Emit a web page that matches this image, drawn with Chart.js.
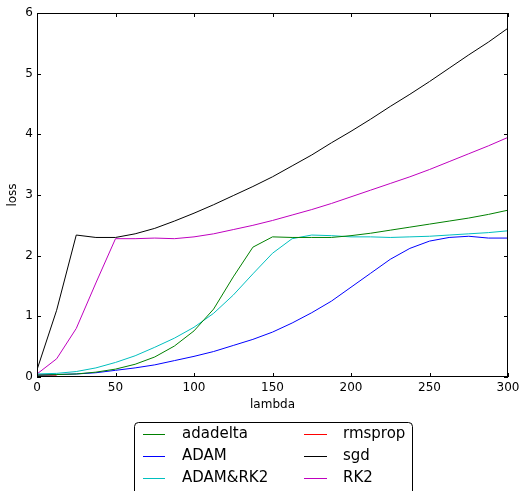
<!DOCTYPE html>
<html>
<head>
<meta charset="utf-8">
<script src="https://cdn.jsdelivr.net/npm/chart.js@4.4.0/dist/chart.umd.min.js"></script>
<style>
  html, body { margin: 0; padding: 0; background: #fff; }
  #wrap { width: 520px; height: 491px; }
</style>
</head>
<body>
<div id="wrap"><canvas id="chart" width="520" height="491"></canvas></div>
<script>
// lambda values (x)
const lambdas = [0, 12.5, 25, 37.5, 50, 62.5, 75, 87.5, 100, 112.5, 125, 137.5, 150,
                 162.5, 175, 187.5, 200, 212.5, 225, 237.5, 250, 262.5, 275, 287.5, 300];

const adadelta = [0.03, 0.04, 0.05, 0.08, 0.13, 0.21, 0.33, 0.51, 0.76, 1.12, 1.65, 2.14, 2.31,
                  2.30, 2.30, 2.30, 2.33, 2.37, 2.42, 2.47, 2.52, 2.57, 2.62, 2.68, 2.75];
const adam = [0.03, 0.04, 0.05, 0.07, 0.11, 0.15, 0.20, 0.27, 0.34, 0.42, 0.52, 0.62, 0.74,
              0.89, 1.06, 1.25, 1.48, 1.71, 1.94, 2.12, 2.24, 2.30, 2.32, 2.29, 2.29];
const adamRk2 = [0.05, 0.06, 0.09, 0.15, 0.24, 0.35, 0.49, 0.64, 0.82, 1.05, 1.35, 1.70, 2.04,
                 2.28, 2.34, 2.33, 2.31, 2.31, 2.30, 2.31, 2.32, 2.34, 2.36, 2.38, 2.41];
const rmsprop = [0.03, 0.03];
const sgd = [0.12, 1.1, 2.34, 2.30, 2.30, 2.36, 2.45, 2.57, 2.70, 2.84, 2.99, 3.14, 3.30,
             3.48, 3.66, 3.86, 4.05, 4.25, 4.46, 4.66, 4.87, 5.09, 5.31, 5.52, 5.75];
const rk2 = [0.05, 0.30, 0.80, 1.55, 2.28, 2.28, 2.29, 2.28, 2.31, 2.36, 2.43, 2.50, 2.58,
             2.67, 2.76, 2.86, 2.97, 3.08, 3.19, 3.30, 3.42, 3.55, 3.68, 3.81, 3.95];

const xTicks = [0, 50, 100, 150, 200, 250, 300];
const yTicks = [0, 1, 2, 3, 4, 5, 6];

const FONT = "'DejaVu Sans', sans-serif";

function toPoints(vals) {
    return vals.map((v, i) => ({ x: lambdas[i], y: v }));
}

function series(label, vals, color) {
    return {
        label: label,
        data: toPoints(vals),
        borderColor: color,
        backgroundColor: color,
        borderWidth: 1,
        pointRadius: 0,
        tension: 0,
        fill: false
    };
}

// frame + inward ticks + matplotlib style legend box
const framePlugin = {
    id: 'frame',
    afterDraw(chart) {
        const ctx = chart.ctx;
        const a = chart.chartArea;
        const xs = chart.scales.x, ys = chart.scales.y;
        ctx.save();
        ctx.strokeStyle = '#000';
        ctx.lineWidth = 1;
        ctx.strokeRect(a.left + 0.5, a.top + 0.5, a.right - a.left - 1, a.bottom - a.top - 1);
        ctx.beginPath();
        xTicks.forEach(t => {
            const px = Math.round(xs.getPixelForValue(t)) + 0.5;
            ctx.moveTo(px, a.bottom); ctx.lineTo(px, a.bottom - 4);
            ctx.moveTo(px, a.top); ctx.lineTo(px, a.top + 4);
        });
        yTicks.forEach(t => {
            const py = Math.round(ys.getPixelForValue(t)) + 0.5;
            ctx.moveTo(a.left, py); ctx.lineTo(a.left + 4, py);
            ctx.moveTo(a.right, py); ctx.lineTo(a.right - 4, py);
        });
        ctx.stroke();

        // legend
        const box = { x: 134.5, y: 422.5, w: 278, h: 90 };
        ctx.beginPath();
        ctx.roundRect(box.x, box.y, box.w, box.h, 4);
        ctx.fillStyle = '#fff';
        ctx.fill();
        ctx.strokeStyle = '#000';
        ctx.stroke();

        const cols = [{ h0: 143, h1: 165, tx: 182 }, { h0: 304, h1: 327, tx: 343 }];
        const rows = [434, 456, 478];
        ctx.font = '15px ' + FONT;
        ctx.textBaseline = 'middle';
        ctx.textAlign = 'left';
        chart.data.datasets.forEach((ds, i) => {
            const c = cols[Math.floor(i / 3)];
            const y = rows[i % 3];
            ctx.strokeStyle = ds.borderColor;
            ctx.beginPath();
            ctx.moveTo(c.h0, y + 0.5);
            ctx.lineTo(c.h1, y + 0.5);
            ctx.stroke();
            ctx.fillStyle = '#000';
            ctx.fillText(ds.label, c.tx, y);
        });
        ctx.restore();
    }
};

new Chart(document.getElementById('chart'), {
    type: 'line',
    data: {
        datasets: [
            series('adadelta', adadelta, '#008000'),
            series('ADAM', adam, '#0000ff'),
            series('ADAM&RK2', adamRk2, '#00bfbf'),
            series('rmsprop', rmsprop, '#ff0000'),
            series('sgd', sgd, '#000000'),
            series('RK2', rk2, '#bf00bf')
        ]
    },
    options: {
        responsive: false,
        animation: false,
        layout: { padding: { left: 6, right: 12, top: 13, bottom: 79 } },
        plugins: {
            legend: { display: false },
            tooltip: { enabled: false }
        },
        scales: {
            x: {
                type: 'linear',
                min: 0,
                max: 300,
                afterFit(scale) {
                    scale.height = 35;
                    scale.paddingLeft = 0;
                    scale.paddingRight = 0;
                },
                afterBuildTicks(scale) { scale.ticks = xTicks.map(v => ({ value: v })); },
                grid: { display: false, drawTicks: false, tickLength: 0 },
                border: { display: false },
                ticks: { color: '#000', font: { family: FONT, size: 12 }, padding: 4, maxRotation: 0 },
                title: { display: true, text: 'lambda', color: '#000', font: { family: FONT, size: 12 }, padding: 0 }
            },
            y: {
                min: 0,
                max: 6,
                afterFit(scale) {
                    scale.width = 31;
                    scale.paddingTop = 0;
                    scale.paddingBottom = 0;
                },
                afterBuildTicks(scale) { scale.ticks = yTicks.map(v => ({ value: v })); },
                grid: { display: false, drawTicks: false, tickLength: 0 },
                border: { display: false },
                ticks: { color: '#000', font: { family: FONT, size: 12 }, padding: 4 },
                title: { display: true, text: 'loss', color: '#000', font: { family: FONT, size: 12 }, padding: 0 }
            }
        }
    },
    plugins: [framePlugin]
});
</script>
</body>
</html>
